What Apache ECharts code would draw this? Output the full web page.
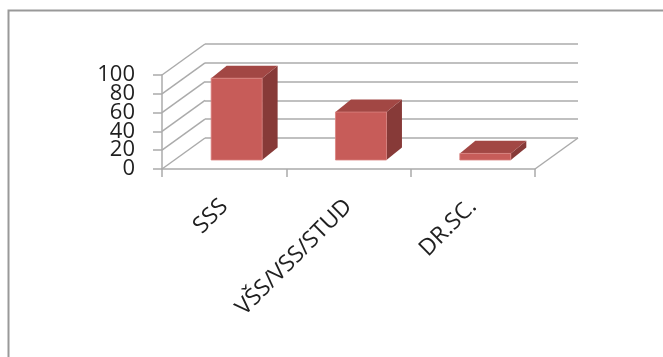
<!DOCTYPE html>
<html>
<head>
<meta charset="utf-8">
<script src="https://cdn.jsdelivr.net/npm/echarts@6/dist/echarts.min.js"></script>
<style>
  html, body { margin: 0; padding: 0; background: #ffffff; }
  #chart { width: 663px; height: 357px; }
</style>
</head>
<body>
<div id="chart"></div>
<script>
// Data
const categories = ['SSS', 'VŠS/VSS/STUD', 'DR.SC.'];
const values = [87, 51, 7];
const yTicks = [0, 20, 40, 60, 80, 100];

// Front plane of the 3D box, and the offset of the back wall behind it
const FRONT = { left: 162, top: 75, width: 373, height: 94 };
const DEPTH = { x: 43, y: -31 };
// Bars stand part-way into the floor and have their own thickness
const BAR_POS = 0.29;                 // fraction of the floor depth
const BAR_DEPTH = { x: 15.5, y: -12.6 };
const BAR_WIDTH = 0.41;               // fraction of a category band

const GRID_COLOR = '#ABABAB';
const TEXT_COLOR = '#1f1f1f';
const FONT = "'Open Sans', 'Noto Sans', sans-serif";
const Y_LABEL_GAP = 27;
const FACE = { front: '#C75C59', side: '#873A38', top: '#A24744' };

const chart = echarts.init(document.getElementById('chart'), null, { renderer: 'canvas' });

const yMin = yTicks[0];
const yMax = yTicks[yTicks.length - 1];
const yStep = yTicks[1] - yTicks[0];

// Side wall lines from the front axis back to the wall, plus the floor's right edge
function renderWalls(params, api) {
  const v = api.value(1);
  const cs = params.coordSys;
  const p = api.coord([0, v]);
  const x0 = cs.x;
  const y = p[1];
  const style = { stroke: GRID_COLOR, lineWidth: 1.5 };
  const children = [{
    type: 'line',
    shape: { x1: x0, y1: y, x2: x0 + DEPTH.x, y2: y + DEPTH.y },
    style: style
  }];
  if (v === yMin) {
    const xR = cs.x + cs.width;
    children.push({
      type: 'line',
      shape: { x1: xR, y1: y, x2: xR + DEPTH.x, y2: y + DEPTH.y },
      style: style
    });
  }
  return { type: 'group', children: children };
}

// Value labels beside the front vertical axis, one per tick (they sit
// closer together than their own height, so they are placed directly)
function renderYLabel(params, api) {
  const v = api.value(1);
  const cs = params.coordSys;
  const p = api.coord([0, v]);
  return {
    type: 'text',
    x: cs.x - Y_LABEL_GAP,
    y: p[1],
    style: {
      text: String(v),
      fill: TEXT_COLOR,
      font: '22px ' + FONT,
      align: 'right',
      verticalAlign: 'middle'
    }
  };
}

// Solid 3D column: front face, right side and top
function renderBar(params, api) {
  const i = api.value(0);
  const v = api.value(1);
  const base = api.coord([i, 0]);
  const top = api.coord([i, v]);
  const band = api.size([1, 0])[0];
  const w = band * BAR_WIDTH;
  const ox = DEPTH.x * BAR_POS;
  const oy = DEPTH.y * BAR_POS;
  const x0 = base[0] - w / 2 + ox;
  const x1 = x0 + w;
  const yB = base[1] + oy;
  const yT = top[1] + oy;
  const bx = BAR_DEPTH.x, by = BAR_DEPTH.y;
  return {
    type: 'group',
    children: [
      {
        type: 'polygon',
        shape: { points: [[x1, yT], [x1 + bx, yT + by], [x1 + bx, yB + by], [x1, yB]] },
        style: { fill: FACE.side }
      },
      {
        type: 'polygon',
        shape: { points: [[x0, yT], [x1, yT], [x1 + bx, yT + by], [x0 + bx, yT + by]] },
        style: { fill: FACE.top }
      },
      {
        type: 'rect',
        shape: { x: x0, y: yT, width: w, height: yB - yT },
        style: { fill: FACE.front, stroke: '#D9827F', lineWidth: 0.8 }
      }
    ]
  };
}

const option = {
  backgroundColor: '#ffffff',
  animation: false,
  graphic: [{
    type: 'rect',
    left: 6, top: 8,
    shape: { width: 720, height: 420 },
    style: { fill: 'none', stroke: '#999999', lineWidth: 2 },
    silent: true
  }],
  grid: [
    { left: FRONT.left, top: FRONT.top, width: FRONT.width, height: FRONT.height },
    { left: FRONT.left + DEPTH.x, top: FRONT.top + DEPTH.y, width: FRONT.width, height: FRONT.height }
  ],
  xAxis: [
    {
      type: 'category', gridIndex: 0, data: categories, boundaryGap: true,
      axisLine: { show: true, lineStyle: { color: GRID_COLOR, width: 1.5 } },
      axisTick: { show: true, alignWithLabel: false, length: 8, lineStyle: { color: GRID_COLOR, width: 1.5 } },
      axisLabel: {
        interval: 0, rotate: 45, margin: 34,
        fontFamily: FONT, fontSize: 23, color: TEXT_COLOR
      },
      splitLine: { show: false }
    },
    {
      type: 'category', gridIndex: 1, data: categories, boundaryGap: true, show: false
    }
  ],
  yAxis: [
    {
      type: 'value', gridIndex: 0, min: yMin, max: yMax, interval: yStep,
      axisLine: { show: true, lineStyle: { color: GRID_COLOR, width: 1.5 } },
      axisTick: { show: true, length: 9, lineStyle: { color: GRID_COLOR, width: 1.5 } },
      axisLabel: { show: false },
      splitLine: { show: false }
    },
    {
      type: 'value', gridIndex: 1, min: yMin, max: yMax, interval: yStep,
      axisLine: { show: false }, axisTick: { show: false }, axisLabel: { show: false },
      splitLine: { show: true, lineStyle: { color: GRID_COLOR, width: 1.5 } }
    }
  ],
  series: [
    {
      type: 'custom', xAxisIndex: 0, yAxisIndex: 0, z: 1, silent: true, clip: false,
      renderItem: renderWalls,
      data: yTicks.map(function (v) { return [0, v]; })
    },
    {
      type: 'custom', xAxisIndex: 0, yAxisIndex: 0, z: 2, silent: true, clip: false,
      renderItem: renderYLabel,
      data: yTicks.map(function (v) { return [0, v]; })
    },
    {
      type: 'custom', xAxisIndex: 0, yAxisIndex: 0, z: 3, clip: false,
      renderItem: renderBar,
      data: values.map(function (v, i) { return [i, v]; })
    }
  ]
};

chart.setOption(option);
</script>
</body>
</html>
